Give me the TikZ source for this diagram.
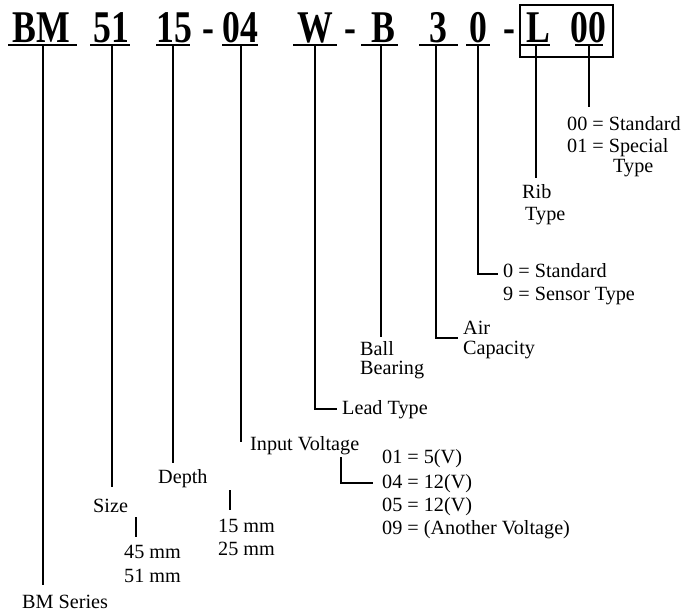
\documentclass[tikz,border=0pt]{standalone}
\usepackage{graphicx}
\usepackage{fontspec}
\setmainfont{Liberation Serif}
\newcommand{\hs}[1]{\scalebox{0.85}[1.08]{#1}}
\tikzset{
 lbl/.style={anchor=base west, inner sep=0pt, font=\fontsize{20.2}{24}\selectfont},
 hd/.style={anchor=base, inner sep=0pt, font=\fontsize{42}{42}\selectfont\bfseries},
 ln/.style={line width=1.6pt},
 ul/.style={line width=1.8pt},
}
\begin{document}
\begin{tikzpicture}[x=1pt,y=-1pt]
\useasboundingbox (0,0) rectangle (686,611);
% header
\node[hd] (hBM) at (41,42) {\hs{BM}};
\node[hd] (h51) at (111,42) {\hs{51}};
\node[hd] (h15) at (174,42) {\hs{15}};
\node[hd] (d1) at (208,42) {\hs{-}};
\node[hd] (h04) at (240,42) {\hs{04}};
\node[hd] (hW) at (315,42) {\hs{W}};
\node[hd] (d2) at (350,42) {\hs{-}};
\node[hd] (hB) at (383,42) {\hs{B}};
\node[hd] (h3) at (438,42) {\hs{3}};
\node[hd] (h0) at (478,42) {\hs{0}};
\node[hd] (d3) at (509,42) {\hs{-}};
\node[hd] (hL) at (538,42) {\hs{L}};
\node[hd] (h00) at (588,42) {\hs{00}};
\coordinate (bx1) at (520,5);
\coordinate (bx2) at (613,57);
\draw[ln] (bx1) rectangle (bx2);
% underlines
\foreach \a/\b/\n in {8/77/BM,90/130/51,156/190/15,222/258/04,293/337/W,361/398/B,419/458/3,466/490/0,521/550/L,575/603/00}{
  \coordinate (ua\n) at (\a,45); \coordinate (ub\n) at (\b,45);
  \draw[ul] (ua\n) -- (ub\n);
}
% labels
\node[lbl] (l00a) at (567,130) {00 = Standard};
\node[lbl] (l00b) at (567,152) {01 = Special};
\node[lbl] (l00c) at (613,172) {Type};
\node[lbl] (lRa) at (522,198) {Rib};
\node[lbl] (lRb) at (525,220) {Type};
\node[lbl] (l0a) at (503,277) {0 = Standard};
\node[lbl] (l0b) at (503,300) {9 = Sensor Type};
\node[lbl] (lAa) at (463,334) {Air};
\node[lbl] (lAb) at (463,354) {Capacity};
\node[lbl] (lBa) at (360,355) {Ball};
\node[lbl] (lBb) at (360,374) {Bearing};
\node[lbl] (lLead) at (342,414) {Lead Type};
\node[lbl] (lIV) at (250,450) {Input Voltage};
\node[lbl] (v1) at (382,463) {01 = 5(V)};
\node[lbl] (v2) at (382,488) {04 = 12(V)};
\node[lbl] (v3) at (382,511) {05 = 12(V)};
\node[lbl] (v4) at (382,534) {09 = (Another Voltage)};
\node[lbl] (lDepth) at (158,483) {Depth};
\node[lbl] (dp1) at (218,532) {15 mm};
\node[lbl] (dp2) at (218,555) {25 mm};
\node[lbl] (lSize) at (93,512) {Size};
\node[lbl] (sz1) at (124,558) {45 mm};
\node[lbl] (sz2) at (124,582) {51 mm};
\node[lbl] (lBM) at (22,608) {BM Series};
% connectors
\coordinate (sBM) at (43,45);   \coordinate (eBM) at (43,585);
\coordinate (s51) at (112,45);  \coordinate (e51) at (112,487);
\coordinate (s15) at (173,45);  \coordinate (e15) at (173,463);
\coordinate (s04) at (241,45);  \coordinate (e04) at (241,442);
\coordinate (sW) at (315,45);   \coordinate (cW) at (315,409); \coordinate (eW) at (337,409);
\coordinate (sB) at (381,45);   \coordinate (eB) at (381,337);
\coordinate (s3) at (436,45);   \coordinate (c3) at (436,338); \coordinate (e3) at (458,338);
\coordinate (s0) at (478,45);   \coordinate (c0) at (478,274); \coordinate (e0) at (498,274);
\coordinate (sL) at (536,45);   \coordinate (eL) at (536,178);
\coordinate (s00) at (589,45);  \coordinate (e00) at (589,107);
\coordinate (sV) at (341,457);  \coordinate (cV) at (341,483); \coordinate (eV) at (373,483);
\coordinate (sD) at (230,490);  \coordinate (eD) at (230,510);
\coordinate (sS) at (136,517);  \coordinate (eS) at (136,537);
\draw[ln] (sBM) -- (eBM);
\draw[ln] (s51) -- (e51);
\draw[ln] (s15) -- (e15);
\draw[ln] (s04) -- (e04);
\draw[ln] (sW) -- (cW) -- (eW);
\draw[ln] (sB) -- (eB);
\draw[ln] (s3) -- (c3) -- (e3);
\draw[ln] (s0) -- (c0) -- (e0);
\draw[ln] (sL) -- (eL);
\draw[ln] (s00) -- (e00);
\draw[ln] (sV) -- (cV) -- (eV);
\draw[ln] (sD) -- (eD);
\draw[ln] (sS) -- (eS);
\end{tikzpicture}
\end{document}
